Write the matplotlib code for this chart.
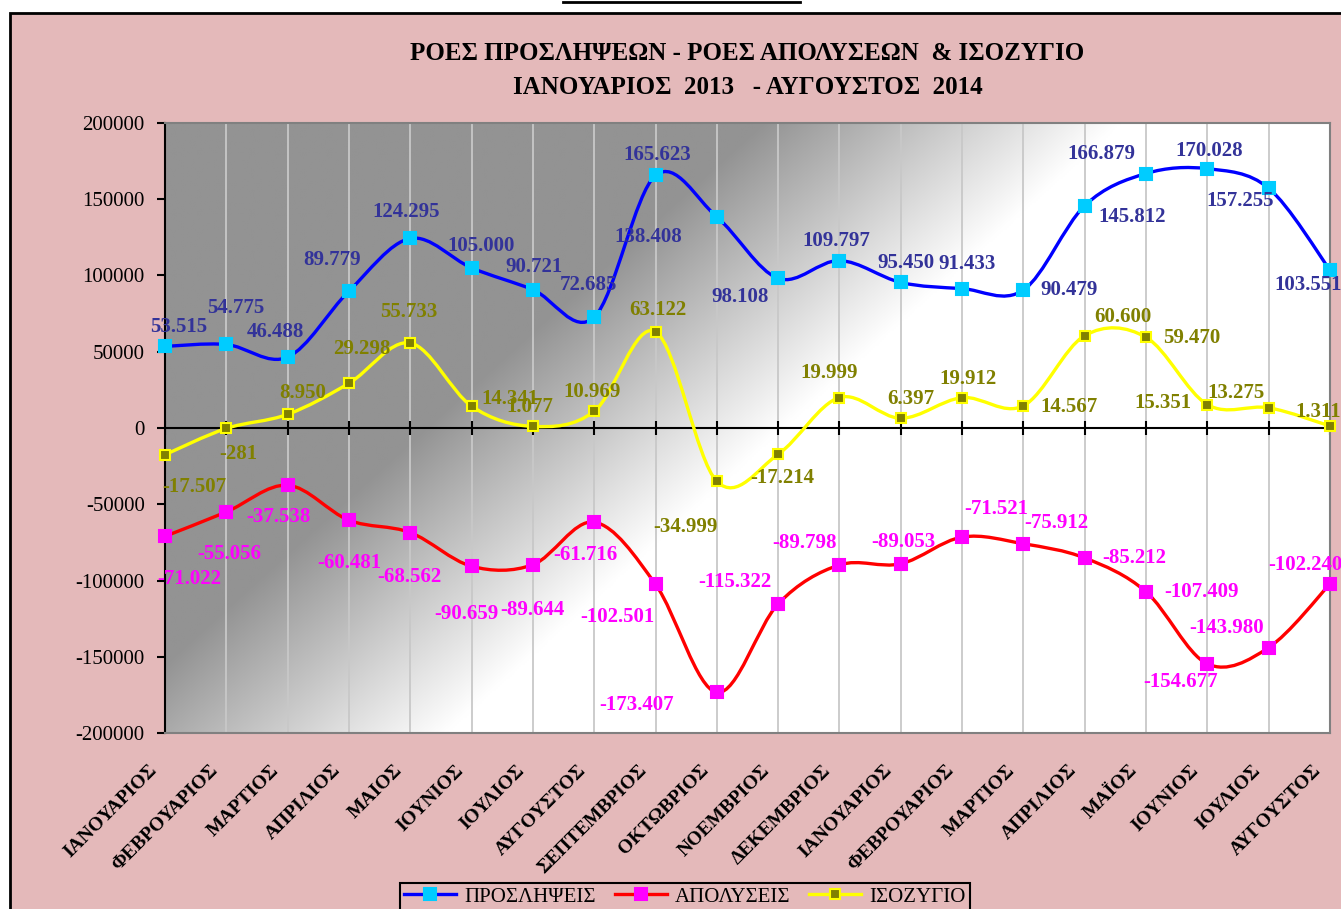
import numpy as np
import matplotlib
matplotlib.use('Agg')
import matplotlib.pyplot as plt
from matplotlib.path import Path
from matplotlib.patches import PathPatch, Rectangle
from matplotlib.lines import Line2D
import matplotlib.transforms as mtransforms

# ---------------- data ----------------
months = ['ΙΑΝΟΥΑΡΙΟΣ', 'ΦΕΒΡΟΥΑΡΙΟΣ', 'ΜΑΡΤΙΟΣ', 'ΑΠΡΙΛΙΟΣ', 'ΜΑΙΟΣ', 'ΙΟΥΝΙΟΣ',
          'ΙΟΥΛΙΟΣ', 'ΑΥΓΟΥΣΤΟΣ', 'ΣΕΠΤΕΜΒΡΙΟΣ', 'ΟΚΤΩΒΡΙΟΣ', 'ΝΟΕΜΒΡΙΟΣ', 'ΔΕΚΕΜΒΡΙΟΣ',
          'ΙΑΝΟΥΑΡΙΟΣ', 'ΦΕΒΡΟΥΑΡΙΟΣ', 'ΜΑΡΤΙΟΣ', 'ΑΠΡΙΛΙΟΣ', 'ΜΑΪΟΣ', 'ΙΟΥΝΙΟΣ',
          'ΙΟΥΛΙΟΣ', 'ΑΥΓΟΥΣΤΟΣ']
hires = [53515, 54775, 46488, 89779, 124295, 105000, 90721, 72685, 165623, 138408,
         98108, 109797, 95450, 91433, 90479, 145812, 166879, 170028, 157255, 103551]
layoffs = [-71022, -55056, -37538, -60481, -68562, -90659, -89644, -61716, -102501, -173407,
           -115322, -89798, -89053, -71521, -75912, -85212, -107409, -154677, -143980, -102240]
balance = [-17507, -281, 8950, 29298, 55733, 14341, 1077, 10969, 63122, -34999,
           -17214, 19999, 6397, 19912, 14567, 60600, 59470, 15351, 13275, 1311]
series_names = ['ΠΡΟΣΛΗΨΕΙΣ', 'ΑΠΟΛΥΣΕΙΣ', 'ΙΣΟΖΥΓΙΟ']
yticks = [200000, 150000, 100000, 50000, 0, -50000, -100000, -150000, -200000]
title_lines = ['ΡΟΕΣ ΠΡΟΣΛΗΨΕΩΝ - ΡΟΕΣ ΑΠΟΛΥΣΕΩΝ  & ΙΣΟΖΥΓΙΟ',
               'ΙΑΝΟΥΑΡΙΟΣ  2013   - ΑΥΓΟΥΣΤΟΣ  2014']

# ---------------- label offsets (pixels) ----------------
hires_off = [(14, 19), (9, 36), (-12, 25), (-17, 31), (-4, 26), (9, 22), (1, 23), (-6, 32),
             (2, 20), (-69, -20), (-38, -19), (-3, 20), (5, 19), (5, 25), (46, 0), (47, -11),
             (-45, 20), (2, 18), (-29, -13), (-22, -15)]
layoffs_off = [(24, -43), (3, -42), (-9, -32), (0, -43), (-1, -44), (-5, -48), (-1, -45),
               (-9, -33), (-38, -33), (-80, -13), (-43, 22), (-35, 22), (3, 22), (34, 28),
               (33, 21), (50, 0), (55, 0), (-27, -18), (-42, 20), (-25, 19)]
balance_off = [(29, -32), (12, -26), (15, 21), (13, 34), (-1, 31), (38, 7), (-3, 19), (-2, 19),
               (2, 22), (-31, -46), (4, -24), (-10, 25), (10, 19), (6, 19), (46, -1), (38, 19),
               (46, -1), (-44, 2), (-33, 15), (-12, 14)]

SERIF = 'Liberation Serif'
PINK = '#e4b9ba'

W, H = 1341, 909
fig = plt.figure(figsize=(W / 100, H / 100), dpi=100, facecolor='white')

# outer framed background
bg = Rectangle((10 / W, -0.05), 1.2, (H - 13) / H + 0.05,
               transform=fig.transFigure, facecolor=PINK,
               edgecolor='black', linewidth=2, zorder=-10)
fig.patches.append(bg)
fig.lines.append(Line2D([563 / W, 800 / W], [1 - 2 / H, 1 - 2 / H],
                        transform=fig.transFigure, color='black', lw=2, zorder=-5))

left, right, top, bottom = 165, 1330, 123, 733
ax = fig.add_axes([left / W, 1 - bottom / H, (right - left) / W, (bottom - top) / H])
ax.set_zorder(1)

x = np.arange(len(months))

# gradient background of plot area
gh, gw = 300, 600
u = np.linspace(0, 1, gw)[None, :]
v = np.linspace(0, 1, gh)[:, None]  # 0 top
s = 0.67 * u * (right - left) + 0.74 * v * (bottom - top)
t = np.clip((s - 400) / 240, 0, 1)
g = 0x93 / 255 + (1 - 0x93 / 255) * t
img = np.dstack([g, g, g])
ax.imshow(img, extent=(0, len(months) - 1, -200000, 200000), aspect='auto',
          origin='upper', zorder=0, interpolation='bilinear')
ax.set_xlim(0, len(months) - 1)
ax.set_ylim(-200000, 200000)

# vertical gridlines
for xi in x:
    ax.axvline(xi, color='#c8c8c8', lw=1.3, zorder=1)
ax.axhline(0, color='black', lw=1.5, zorder=2)
ax.plot(x, np.zeros(len(x)), linestyle='none', marker='|', color='black',
        markersize=10, markeredgewidth=1.5, zorder=2)


def smooth_path(xs, ys):
    xs = np.asarray(xs, float)
    ys = np.asarray(ys, float)
    n = len(xs)
    verts = [(xs[0], ys[0])]
    codes = [Path.MOVETO]
    for i in range(n - 1):
        p0 = i - 1 if i > 0 else i
        p3 = i + 2 if i + 2 < n else i + 1
        c1 = (xs[i] + (xs[i + 1] - xs[p0]) / 6, ys[i] + (ys[i + 1] - ys[p0]) / 6)
        c2 = (xs[i + 1] - (xs[p3] - xs[i]) / 6, ys[i + 1] - (ys[p3] - ys[i]) / 6)
        verts += [c1, c2, (xs[i + 1], ys[i + 1])]
        codes += [Path.CURVE4] * 3
    return Path(verts, codes)


styles = [
    (hires, '#0000ff', '#00ccff', '#00ccff', 8, '#333399', hires_off),
    (layoffs, '#ff0000', '#ff00ff', '#ff00ff', 8, '#ff00ff', layoffs_off),
    (balance, '#ffff00', '#808000', '#ffff00', 7, '#808000', balance_off),
]
handles = []
for (vals, lc, mfc, mec, ms, tc, offs), name in zip(styles, series_names):
    ax.add_patch(PathPatch(smooth_path(x, vals), fill=False, edgecolor=lc, lw=2.4,
                           capstyle='round', joinstyle='round', zorder=3))
    ax.plot(x, vals, linestyle='none', marker='s', markerfacecolor=mfc,
            markeredgecolor=mec, markersize=ms, markeredgewidth=1.5, zorder=4,
            clip_on=False)
    for xi, val, (dx, dy) in zip(x, vals, offs):
        txt = f'{val:,}'.replace(',', '.')
        ax.annotate(txt, (xi, val), xytext=(dx, dy), textcoords='offset pixels',
                    ha='center', va='center', color=tc, fontsize=15,
                    fontweight='bold', family=SERIF, zorder=5, annotation_clip=False)
    handles.append(Line2D([0], [0], color=lc, lw=2.4, marker='s', markerfacecolor=mfc,
                          markeredgecolor=mec, markersize=ms, markeredgewidth=1.5))

# axes styling
for sp in ['top', 'right', 'bottom']:
    ax.spines[sp].set_color('#808080')
    ax.spines[sp].set_linewidth(1.5)
ax.spines['left'].set_color('black')
ax.spines['left'].set_linewidth(1.5)
ax.set_yticks(yticks)
ax.set_yticklabels([str(t) for t in yticks], family=SERIF, fontsize=15)
ax.tick_params(axis='y', direction='out', length=6, width=1.5, pad=8.5, colors='black')
ax.set_xticks(x)
ax.set_xticklabels(months, rotation=45, ha='right', va='center', rotation_mode='anchor',
                   family=SERIF, fontsize=14, fontweight='bold')
ax.tick_params(axis='x', length=0, pad=25)
off = mtransforms.ScaledTranslation(-11 / 100, 0, fig.dpi_scale_trans)
for lab in ax.get_xticklabels():
    lab.set_transform(lab.get_transform() + off)

# title
cx = (left + right) / 2 / W
fig.text(cx, 1 - 53 / H, title_lines[0], ha='center', va='center', family=SERIF,
         fontsize=18, fontweight='bold')
fig.text(cx, 1 - 87 / H, title_lines[1], ha='center', va='center', family=SERIF,
         fontsize=18, fontweight='bold')

leg = fig.legend(handles, series_names, loc='upper center',
                 bbox_to_anchor=(685 / W, 1 - 883 / H), ncol=3, frameon=True,
                 fancybox=False, edgecolor='black', facecolor=PINK, framealpha=1,
                 prop={'family': SERIF, 'size': 15}, handlelength=2.5,
                 columnspacing=0.9, borderpad=0.2, handletextpad=0.4,
                 borderaxespad=0)
leg.get_frame().set_linewidth(1.5)

fig.savefig('out.png', dpi=100, facecolor='white')
